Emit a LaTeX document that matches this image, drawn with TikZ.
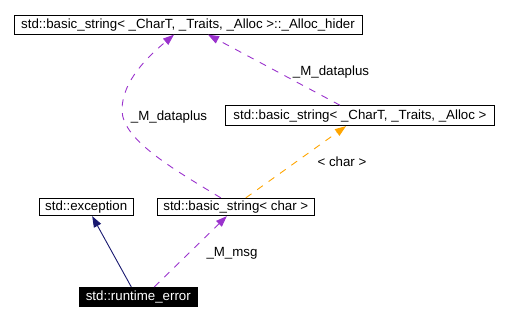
\documentclass[tikz,border=0pt]{standalone}
\usepackage{fontspec}
\setmainfont{Liberation Sans}
\usetikzlibrary{arrows.meta}
\definecolor{dorchid}{HTML}{9A32CD}
\definecolor{dorange}{HTML}{FFA500}
\definecolor{mnblue}{HTML}{191970}
\begin{document}
\begin{tikzpicture}[x=1pt,y=-1pt,
  every node/.style={font=\fontsize{13.3}{16}\selectfont},
  cls/.style={draw=black,line width=0.9pt,inner sep=0pt,minimum height=19pt},
  hl/.style={fill=black,text=white,inner sep=0pt,minimum height=19.7pt},
  lbl/.style={inner sep=0pt},
  tip/.style={-{Triangle[length=11pt,width=8pt]}},
  dsh/.style={dash pattern=on 7pt off 7pt,line width=0.9pt},
  member/.style={tip,dsh,draw=dorchid},
  templ/.style={tip,dsh,draw=dorange},
  inherit/.style={tip,line width=0.9pt,draw=mnblue}]
\useasboundingbox (0,0) rectangle (508,321);
\node[cls,minimum width=348pt] (hider) at (188,24.7) {std::basic\_string< \_CharT, \_Traits, \_Alloc >::\_Alloc\_hider};
\node[cls,minimum width=269.4pt,minimum height=20pt] (bstr) at (360,115.7) {std::basic\_string< \_CharT, \_Traits, \_Alloc >};
\node[cls,minimum width=94.3pt,minimum height=17.4pt] (exc) at (86.2,207) {std::exception};
\node[cls,minimum width=157pt,minimum height=17.4pt] (bchar) at (235.8,207) {std::basic\_string< char >};
\node[hl,minimum width=118.7pt] (rte) at (138.3,297) {std::runtime\_error};
% edges
\draw[member] ([xshift=-15pt]bchar.north) .. controls (175,170) and (122,140) .. (122,110)
   .. controls (122,80) and (150,55) .. ([xshift=-14pt]hider.south);
\node[lbl] (l1) at (169,117) {\_M\_dataplus};
\draw[member] ([xshift=-20pt]bstr.north) -- ([xshift=20pt]hider.south);
\node[lbl] (l2) at (331,72) {\_M\_dataplus};
\draw[templ] ([xshift=10pt]bchar.north) -- ([xshift=-14pt]bstr.south);
\node[lbl] (l3) at (342,162) {< char >};
\draw[inherit] ([xshift=-7pt]rte.north) -- ([xshift=6pt]exc.south);
\draw[member] ([xshift=16pt]rte.north) -- ([xshift=-9pt]bchar.south);
\node[lbl] (l4) at (232,253) {\_M\_msg};
\end{tikzpicture}
\end{document}
